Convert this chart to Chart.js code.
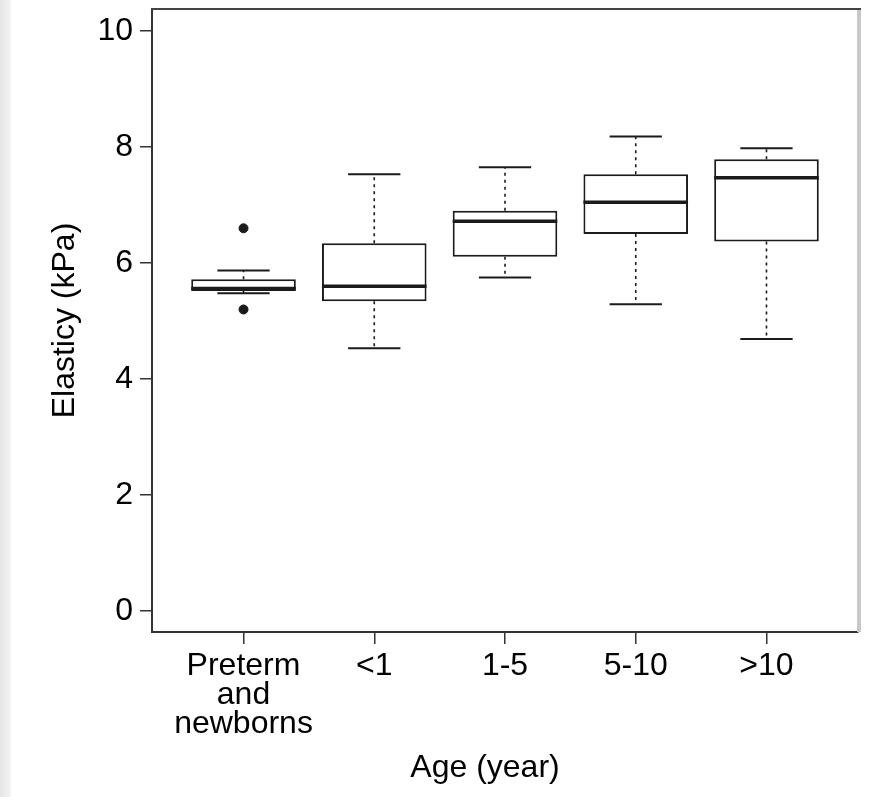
<!DOCTYPE html>
<html>
<head>
<meta charset="utf-8">
<script src="https://cdn.jsdelivr.net/npm/chart.js@4/dist/chart.umd.min.js"></script>
<style>
html,body{margin:0;padding:0;background:#fff;}
#wrap{width:892px;height:797px;position:relative;}
</style>
</head>
<body>
<div id="wrap"><canvas id="c" width="892" height="797"></canvas></div>
<script>
// ---- data ----
const categories = ['Preterm and newborns', '<1', '1-5', '5-10', '>10'];
const tickLabels = [['Preterm', 'and', 'newborns'], '<1', '1-5', '5-10', '>10'];
const whiskerLow  = [5.48, 4.53, 5.75, 5.29, 4.69];
const q1          = [5.52, 5.34, 6.11, 6.50, 6.37];
const median      = [5.56, 5.60, 6.72, 7.05, 7.47];
const q3          = [5.72, 6.34, 6.90, 7.53, 7.79];
const whiskerHigh = [5.87, 7.53, 7.65, 8.18, 7.98];
const outliers    = [[6.60, 5.20], [], [], [], []];
const yTicks = [0, 2, 4, 6, 8, 10];
const yTitle = 'Elasticy (kPa)';
const xTitle = 'Age (year)';

// ---- styling constants ----
const FONT = "'Liberation Sans', Arial, Helvetica, sans-serif";
const INK = '#1b1b1b';
const BOX_HALF = 0.4;   // half box width in x units (boxwex 0.8)
const CAP_HALF = 0.2;   // half staple width

const pos = categories.map((c, i) => i + 1);

const boxData = pos.map((x, i) => ({x: x, y: [q1[i], q3[i]]}));
const whiskerData = [];
const capData = [];
const medianData = [];
pos.forEach((x, i) => {
  whiskerData.push({x: x, y: q3[i]}, {x: x, y: whiskerHigh[i]}, {x: x, y: null},
                   {x: x, y: q1[i]}, {x: x, y: whiskerLow[i]}, {x: x, y: null});
  capData.push({x: x - CAP_HALF, y: whiskerHigh[i]}, {x: x + CAP_HALF, y: whiskerHigh[i]}, {x: x, y: null},
               {x: x - CAP_HALF, y: whiskerLow[i]}, {x: x + CAP_HALF, y: whiskerLow[i]}, {x: x, y: null});
  medianData.push({x: x - BOX_HALF, y: median[i]}, {x: x + BOX_HALF, y: median[i]}, {x: x, y: null});
});
const outlierData = [];
outliers.forEach((arr, i) => arr.forEach(v => outlierData.push({x: pos[i], y: v})));

const pagePlugin = {
  id: 'page',
  beforeDraw(chart) {
    const ctx = chart.ctx;
    ctx.save();
    ctx.fillStyle = '#fff';
    ctx.fillRect(0, 0, chart.width, chart.height);
    const g = ctx.createLinearGradient(0, 0, 12, 0);
    g.addColorStop(0, '#e4e4e4');
    g.addColorStop(0.8, '#f2f2f2');
    g.addColorStop(1, '#ffffff');
    ctx.fillStyle = g;
    ctx.fillRect(0, 0, 12, chart.height);
    ctx.restore();
  },
  afterDraw(chart) {
    const ctx = chart.ctx;
    const a = chart.chartArea;
    ctx.save();
    // right light-grey frame edge
    ctx.strokeStyle = '#c8c8c8';
    ctx.lineWidth = 4;
    ctx.beginPath();
    ctx.moveTo(a.right + 1, a.top);
    ctx.lineTo(a.right + 1, a.bottom);
    ctx.stroke();
    // top frame edge
    ctx.strokeStyle = '#444';
    ctx.lineWidth = 2;
    ctx.beginPath();
    ctx.moveTo(a.left - 1, a.top);
    ctx.lineTo(a.right + 3, a.top);
    ctx.stroke();
    // x axis title
    ctx.fillStyle = '#000';
    ctx.font = '32px ' + FONT;
    ctx.textAlign = 'center';
    ctx.textBaseline = 'alphabetic';
    ctx.fillText(xTitle, 485, 777);
    ctx.restore();
  }
};

new Chart(document.getElementById('c'), {
  type: 'bar',
  data: {
    datasets: [
      {
        type: 'line', label: 'median', data: medianData, order: 0,
        borderColor: INK, borderWidth: 3.5, pointRadius: 0, spanGaps: false, fill: false,
        borderCapStyle: 'butt'
      },
      {
        type: 'scatter', label: 'outliers', data: outlierData, order: 0,
        pointRadius: 4.5, pointStyle: 'circle', backgroundColor: INK, borderColor: INK, borderWidth: 1
      },
      {
        type: 'line', label: 'caps', data: capData, order: 0,
        borderColor: INK, borderWidth: 2, pointRadius: 0, spanGaps: false, fill: false
      },
      {
        type: 'line', label: 'whiskers', data: whiskerData, order: 1,
        borderColor: INK, borderWidth: 1.6, borderDash: [3, 4], pointRadius: 0, spanGaps: false, fill: false
      },
      {
        type: 'bar', label: 'IQR', data: boxData, order: 2,
        backgroundColor: '#ffffff', borderColor: INK, borderWidth: 2, borderSkipped: false,
        barPercentage: 0.8, categoryPercentage: 1, grouped: false
      }
    ]
  },
  options: {
    responsive: false,
    animation: false,
    events: [],
    layout: {padding: {top: 9, right: 34, left: 0, bottom: 0}},
    plugins: {legend: {display: false}, tooltip: {enabled: false}, title: {display: false}},
    scales: {
      x: {
        type: 'linear', position: 'bottom', min: 0.3, max: 5.7, offset: false,
        afterBuildTicks: s => { s.ticks = pos.map(v => ({value: v})); },
        afterFit: s => { s.height = 165; s.paddingLeft = 0; s.paddingRight = 0; },
        grid: {drawOnChartArea: false, drawTicks: true, offset: false, tickLength: 12, color: '#333', lineWidth: 1.5},
        border: {display: true, color: '#333', width: 2},
        ticks: {
          callback: (v, i) => tickLabels[i],
          font: {family: FONT, size: 32, lineHeight: 0.9},
          color: '#000', padding: 8, maxRotation: 0, autoSkip: false
        },
        title: {display: false}
      },
      y: {
        type: 'linear', min: -0.36, max: 10.38,
        afterBuildTicks: s => { s.ticks = yTicks.map(v => ({value: v})); },
        afterFit: s => { s.width = 152; s.paddingTop = 0; s.paddingBottom = 0; },
        grid: {drawOnChartArea: false, drawTicks: true, offset: false, tickLength: 12, color: '#333', lineWidth: 1.5},
        border: {display: true, color: '#333', width: 2},
        ticks: {
          font: {family: FONT, size: 32}, color: '#000', padding: 7,
          callback: v => String(v)
        },
        title: {
          display: true, text: yTitle, color: '#000',
          font: {family: FONT, size: 32, lineHeight: 1.2}, padding: {top: 46, bottom: 0}
        }
      }
    }
  },
  plugins: [pagePlugin]
});
</script>
</body>
</html>
